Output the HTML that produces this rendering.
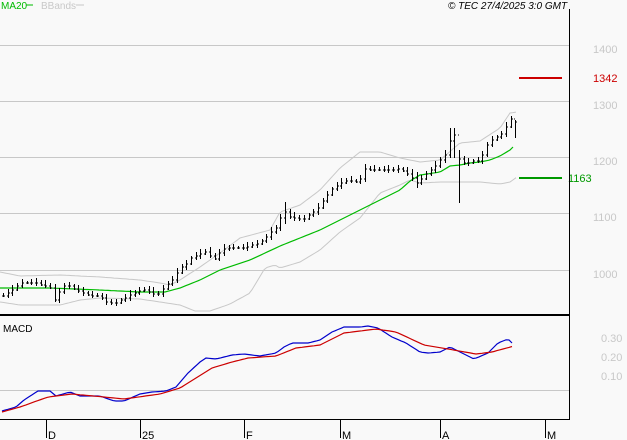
<!DOCTYPE html>
<html><head><meta charset="utf-8"><style>
html,body{margin:0;padding:0;background:#f9f9f9;}
svg{display:block;font-family:"Liberation Sans",sans-serif;}
</style></head><body>
<svg id="s" width="627" height="440" xmlns="http://www.w3.org/2000/svg">
<rect width="627" height="440" fill="#f9f9f9"/>
<g stroke="#c8c8c8" stroke-width="1">
<line x1="0" y1="45.5" x2="569" y2="45.5"/><line x1="0" y1="101.5" x2="569" y2="101.5"/>
<line x1="0" y1="157.5" x2="569" y2="157.5"/><line x1="0" y1="213.5" x2="569" y2="213.5"/>
<line x1="0" y1="270.5" x2="569" y2="270.5"/><line x1="0" y1="390.5" x2="569" y2="390.5"/>
</g>
<g fill="#c8c8c8" font-size="11">
<text x="593" y="53">1400</text><text x="593" y="109">1300</text><text x="593" y="165">1200</text>
<text x="593" y="221">1100</text><text x="593" y="278">1000</text>
<text x="601" y="342">0.30</text><text x="601" y="361">0.20</text><text x="601" y="380">0.10</text>
</g>
<line x1="519" y1="78" x2="562" y2="78" stroke="#cc0000" stroke-width="2"/>
<text x="593" y="82" font-size="11" fill="#cc0000">1342</text>
<line x1="519" y1="178" x2="562" y2="178" stroke="#009900" stroke-width="2"/>
<text x="568" y="182" font-size="11" fill="#009900">1163</text>
<text x="1" y="9" font-size="10" fill="#00bb00">MA20</text>
<line x1="26" y1="5" x2="33" y2="5" stroke="#00bb00"/>
<text x="41" y="9" font-size="10" fill="#c8c8c8">BBands</text>
<line x1="76" y1="5" x2="84" y2="5" stroke="#c8c8c8"/>
<text x="448" y="9" font-size="10" font-style="italic" fill="#000">© TEC 27/4/2025 3:0 GMT</text>
<text x="3" y="332" font-size="10" fill="#000">MACD</text>
<g id="g"></g>
<line x1="569.5" y1="9" x2="569.5" y2="419" stroke="#000"/>
<line x1="0" y1="315" x2="569" y2="315" stroke="#000" stroke-width="2"/>
<line x1="0" y1="419.5" x2="570" y2="419.5" stroke="#000"/>
<g stroke="#000">
<line x1="46.5" y1="419" x2="46.5" y2="438"/><line x1="140.5" y1="419" x2="140.5" y2="438"/>
<line x1="244.5" y1="419" x2="244.5" y2="438"/><line x1="340.5" y1="419" x2="340.5" y2="438"/>
<line x1="440.5" y1="419" x2="440.5" y2="438"/><line x1="545.5" y1="419" x2="545.5" y2="438"/>
</g>
<g font-size="11" fill="#000">
<text x="48" y="439">D</text><text x="142" y="439">25</text><text x="246" y="439">F</text>
<text x="342" y="439">M</text><text x="442" y="439">A</text><text x="547" y="439">M</text>
</g>
</svg>
<script>
function interp(p,x){for(var i=0;i<p.length-1;i++){if(x<=p[i+1][0]){var a=p[i],b=p[i+1];return a[1]+(b[1]-a[1])*(x-a[0])/(b[0]-a[0]);}}return p[p.length-1][1];}
function pl(p,c,w){return '<polyline fill="none" stroke="'+c+'" stroke-width="'+w+'" points="'+p.map(function(q){return q[0]+','+q[1]}).join(' ')+'"/>';}
var up=[[0,272],[20,276],[60,275],[100,277],[140,280],[160,283],[170,285],[180,280],[200,267],[220,253],[240,238],[270,230],[280,212],[300,205],[320,190],[340,168],[360,152],[380,152],[400,158],[420,162],[440,160],[460,143],[480,141],[500,128],[510,113],[517,112]];
var lo=[[0,302],[20,305],[60,305],[80,300],[100,298],[140,299],[160,302],[180,305],[195,311],[210,311],[230,304],[250,293],[265,268],[275,265],[280,268],[300,262],[320,250],[340,232],[360,218],[380,193],[400,185],[410,180],[420,183],[440,182],[460,182],[480,182],[500,184],[510,182],[517,177]];
var ma=[[0,288],[50,288],[100,290],[140,292],[165,292],[180,288],[200,280],[220,270],[250,260],[280,246],[300,238],[320,230],[340,220],[360,210],[380,200],[400,190],[410,181],[420,175],[440,172],[450,166],[460,165],[470,163],[480,162],[490,160],[500,156],[510,150],[515,145]];
var cl=[[3,295],[10,291],[20,283],[30,282],[37,283],[45,285],[50,287],[55,299],[60,290],[65,284],[70,286],[80,292],[90,295],[100,296],[107,302],[115,303],[120,300],[125,297],[135,292],[140,290],[145,289],[150,292],[155,295],[160,293],[165,285],[170,282],[175,275],[180,268],[185,265],[190,258],[195,256],[200,253],[205,251],[210,255],[215,258],[220,251],[225,248],[230,247],[240,248],[245,247],[250,245],[255,244],[260,242],[265,238],[270,232],[275,230],[283,210],[290,216],[296,218],[300,219],[305,218],[310,214],[315,210],[320,205],[325,197],[330,190],[335,187],[340,183],[345,180],[350,180],[355,182],[360,178],[365,168],[370,169],[390,169],[395,170],[400,168],[405,172],[410,175],[418,183],[423,175],[428,172],[433,168],[438,162],[443,156],[447,152],[450,140],[455,133],[460,165],[465,162],[470,162],[475,160],[480,160],[485,147],[490,140],[495,138],[500,135],[505,128],[510,120],[512,117],[517,125]];
var blue=[[2,411],[16,407],[24,400],[38,391],[50,391],[56,396],[70,392],[80,396],[100,396],[114,401],[124,401],[140,394],[152,392],[166,391],[176,387],[188,373],[200,362],[206,358],[216,359],[232,355],[244,354],[260,356],[276,353],[284,347],[292,343],[308,343],[320,340],[332,332],[344,327],[360,327],[368,326],[378,328],[392,337],[406,343],[420,352],[428,353],[440,352],[450,347],[460,352],[474,359],[488,353],[498,343],[508,339],[514,345]];
var red=[[2,412],[20,407],[48,397],[72,394],[104,397],[124,399],[160,394],[180,388],[196,378],[212,368],[232,362],[248,358],[276,356],[296,348],[320,345],[344,333],[360,331],[376,329],[396,332],[424,345],[448,349],[476,354],[492,352],[514,346]];
var h='';
function band(p){var q=[];for(var x=p[0][0];x<=p[p.length-1][0];x+=3)q.push([x,interp(p,x).toFixed(1)]);return q;}
h+=pl(band(up),'#c8c8c8',1)+pl(band(lo),'#c8c8c8',1)+pl(band(ma),'#00bb00',1.2);
var prev=295;
for(var i=0;i<110;i++){var x=Math.round(3+i*4.7);var c=interp(cl,x);var r=3+((i*7)%5);var hi=Math.min(c,prev)-r*0.6,lw=Math.max(c,prev)+r*0.5;
if(x>=281&&x<=285){hi=202;lw=224;} if(x>=458&&x<=462){hi=150;lw=203;} if(x>=448&&x<=456){hi=128;lw=158;} if(x>=416&&x<=420){hi=172;lw=188;} if(x>=514){hi=120;lw=138;}
h+='<line x1="'+(x+.5)+'" y1="'+hi.toFixed(0)+'" x2="'+(x+.5)+'" y2="'+lw.toFixed(0)+'" stroke="#000"/>';
h+='<line x1="'+(x-1)+'" y1="'+(prev+.5).toFixed(0)+'" x2="'+x+'" y2="'+(prev+.5).toFixed(0)+'" stroke="#000"/>';
h+='<line x1="'+(x+1)+'" y1="'+(c+.5).toFixed(0)+'" x2="'+(x+2)+'" y2="'+(c+.5).toFixed(0)+'" stroke="#000"/>';prev=c;}
h+=pl(band(blue),'#0000cc',1.2)+pl(band(red),'#cc0000',1.2);
document.getElementById('g').innerHTML=h;
</script>
</body></html>
